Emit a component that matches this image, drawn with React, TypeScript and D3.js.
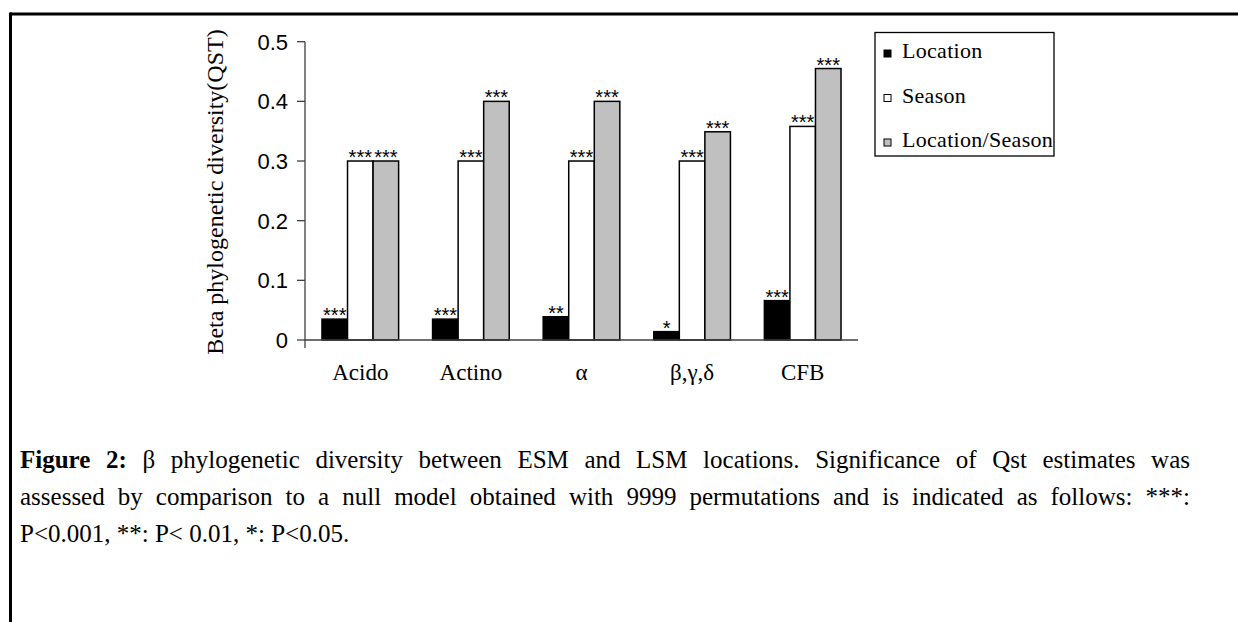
import React, { useEffect, useRef } from "react";
import * as d3 from "d3";

const categories = ["Acido", "Actino", "α", "β,γ,δ", "CFB"];
const seriesNames = ["Location", "Season", "Location/Season"];
const locationValues = [0.035, 0.035, 0.039, 0.014, 0.066];
const seasonValues = [0.3, 0.3, 0.3, 0.3, 0.358];
const interactionValues = [0.3, 0.4, 0.4, 0.349, 0.455];
const locationSig = ["***", "***", "**", "*", "***"];
const seasonSig = ["***", "***", "***", "***", "***"];
const interactionSig = ["***", "***", "***", "***", "***"];
const yTicks = [0, 0.1, 0.2, 0.3, 0.4, 0.5];
const yLabel = "Beta phylogenetic diversity(QST)";
const captionLines = [
  { justify: true, bold: 2, text: "Figure 2: β phylogenetic diversity between ESM and LSM locations. Significance of Qst estimates was" },
  { justify: true, bold: 0, text: "assessed by comparison to a null model obtained with 9999 permutations and is indicated as follows: ***:" },
  { justify: false, bold: 0, text: "P<0.001, **: P< 0.01, *: P<0.05." },
];

const seriesValues = [locationValues, seasonValues, interactionValues];
const seriesSig = [locationSig, seasonSig, interactionSig];
const fills = ["#000000", "#ffffff", "#c0c0c0"];

const W = 1238;
const H = 622;
const serif = "'Liberation Serif', 'Times New Roman', serif";
const sans = "'Liberation Sans', Arial, sans-serif";

export default function App() {
  const capRef = useRef<SVGGElement | null>(null);

  const x = d3.scaleBand<string>().domain(categories).range([305, 858]).paddingInner(0.307).paddingOuter(0.1535);
  const xs = d3.scaleBand<number>().domain([0, 1, 2]).range([0, x.bandwidth()]).padding(0);
  const y = d3.scaleLinear().domain([0, 0.5]).range([340, 41.7]);

  useEffect(() => {
    const g = d3.select(capRef.current);
    g.selectAll("*").remove();
    const left = 20;
    const right = 1190;
    const fs = 25;
    const baselines = [468, 505, 542];
    captionLines.forEach((line, li) => {
      const words = line.text.split(" ");
      const nodes = words.map((w, wi) =>
        g
          .append("text")
          .attr("y", baselines[li])
          .attr("font-family", serif)
          .attr("font-size", fs)
          .attr("font-weight", wi < line.bold ? "bold" : "normal")
          .attr("fill", "#000")
          .text(w)
      );
      const widths = nodes.map((n) => (n.node() as SVGTextElement).getComputedTextLength());
      const total = d3.sum(widths);
      const space = fs * 0.25;
      const gap = line.justify && words.length > 1 ? (right - left - total) / (words.length - 1) : space;
      let cx = left;
      nodes.forEach((n, i) => {
        n.attr("x", cx);
        cx += widths[i] + gap;
      });
    });
  }, []);

  return (
    <svg width={W} height={H} style={{ position: "absolute", left: 0, top: 0, background: "#fff" }}>
      <rect x={0} y={0} width={W} height={H} fill="#fff" />
      {/* frame */}
      <line x1={10} y1={14} x2={W} y2={14} stroke="#000" strokeWidth={3} />
      <line x1={10.5} y1={12.5} x2={10.5} y2={H} stroke="#000" strokeWidth={3} />

      {/* y axis */}
      <line x1={305} y1={y(0.5)} x2={305} y2={348} stroke="#404040" strokeWidth={1.3} />
      {yTicks.map((t) => (
        <g key={t}>
          <line x1={297} x2={305} y1={y(t)} y2={y(t)} stroke="#404040" strokeWidth={1.3} />
          <text x={288} y={y(t)} dy="0.36em" textAnchor="end" fontFamily={sans} fontSize={22} fill="#000">
            {t === 0 ? "0" : d3.format(".1f")(t)}
          </text>
        </g>
      ))}
      <text
        transform={`translate(223,192) rotate(-90)`}
        textAnchor="middle"
        fontFamily={serif}
        fontSize={24}
        fill="#000"
      >
        {yLabel}
      </text>

      {/* bars */}
      {categories.map((c, ci) => (
        <g key={c} transform={`translate(${x(c)},0)`}>
          {seriesValues.map((vals, si) => {
            const v = vals[ci];
            const bx = xs(si) as number;
            return (
              <g key={si}>
                <rect
                  x={bx}
                  y={y(v)}
                  width={xs.bandwidth()}
                  height={y(0) - y(v)}
                  fill={fills[si]}
                  stroke="#000"
                  strokeWidth={1.5}
                />
                <text
                  x={bx + xs.bandwidth() / 2}
                  y={y(v) + 3}
                  textAnchor="middle"
                  fontFamily={sans}
                  fontSize={20}
                  fill="#000"
                >
                  {seriesSig[si][ci]}
                </text>
              </g>
            );
          })}
          <text
            x={x.bandwidth() / 2}
            y={380}
            textAnchor="middle"
            fontFamily={serif}
            fontSize={23}
            fill="#000"
          >
            {c}
          </text>
        </g>
      ))}

      {/* x axis */}
      <line x1={305} x2={858} y1={y(0)} y2={y(0)} stroke="#404040" strokeWidth={1.3} />

      {/* legend */}
      <rect x={875} y={32.5} width={179} height={123.5} fill="#fff" stroke="#000" strokeWidth={1.3} />
      {seriesNames.map((s, i) => (
        <g key={s}>
          <rect x={884} y={50 + i * 44.5} width={7} height={7} fill={fills[i]} stroke="#000" strokeWidth={1} />
          <text x={902} y={58 + i * 44.5} fontFamily={serif} fontSize={22} letterSpacing={0.3} fill="#000">
            {s}
          </text>
        </g>
      ))}

      <g ref={capRef} />
    </svg>
  );
}
